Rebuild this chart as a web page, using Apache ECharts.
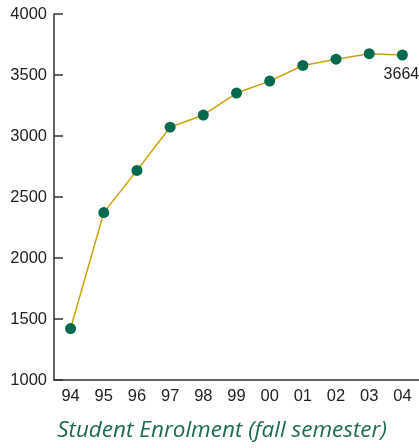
<!DOCTYPE html>
<html><head><meta charset="utf-8">
<script src="https://cdn.jsdelivr.net/npm/echarts@6/dist/echarts.min.js"></script>
<style>html,body{margin:0;padding:0;background:#fff}#c{width:419px;height:448px}</style>
</head><body><div id="c"></div>
<script>
var categories = ['94','95','96','97','98','99','00','01','02','03','04'];
var enrolment = [1422, 2372, 2718, 3072, 3172, 3352, 3450, 3578, 3630, 3675, 3664];
var yTicks = {min: 1000, max: 4000, interval: 500};

var FONT = '"Liberation Sans", Arial, Helvetica, sans-serif';
var chart = echarts.init(document.getElementById('c'));
chart.setOption({
  animation: false,
  title: {
    text: 'Student Enrolment (fall semester)',
    left: 217, textAlign: 'center', top: 414,
    textStyle: {fontFamily: 'Open Sans', fontStyle: 'italic', fontWeight: 'normal', fontSize: 22.5, color: '#1d6a55'}
  },
  grid: {left: 54, right: 0, top: 14, bottom: 68},
  xAxis: {
    type: 'category', data: categories, boundaryGap: true,
    axisLine: {lineStyle: {color: '#333', width: 1.5}},
    axisTick: {inside: true, length: 9, lineStyle: {color: '#333', width: 1.5}},
    axisLabel: {fontFamily: FONT, fontSize: 16.5, color: '#222', margin: 8}
  },
  yAxis: {
    type: 'value', min: yTicks.min, max: yTicks.max, interval: yTicks.interval,
    axisLine: {show: true, lineStyle: {color: '#333', width: 1.5}},
    axisTick: {show: true, inside: true, length: 9, lineStyle: {color: '#333', width: 1.5}},
    splitLine: {show: false},
    axisLabel: {fontFamily: FONT, fontSize: 16.5, color: '#222', margin: 7,
      formatter: function (v) { return String(v); }}
  },
  series: [{
    type: 'line', data: enrolment,
    symbol: 'circle', symbolSize: 11,
    lineStyle: {color: '#c9a10c', width: 1.5},
    itemStyle: {color: '#006a4e'},
    label: {
      show: true, position: 'bottom', distance: 6, offset: [-1, 0],
      fontFamily: FONT, fontSize: 16, color: '#222',
      formatter: function (p) { return p.dataIndex === enrolment.length - 1 ? String(p.value) : ''; }
    }
  }]
});
</script></body></html>
